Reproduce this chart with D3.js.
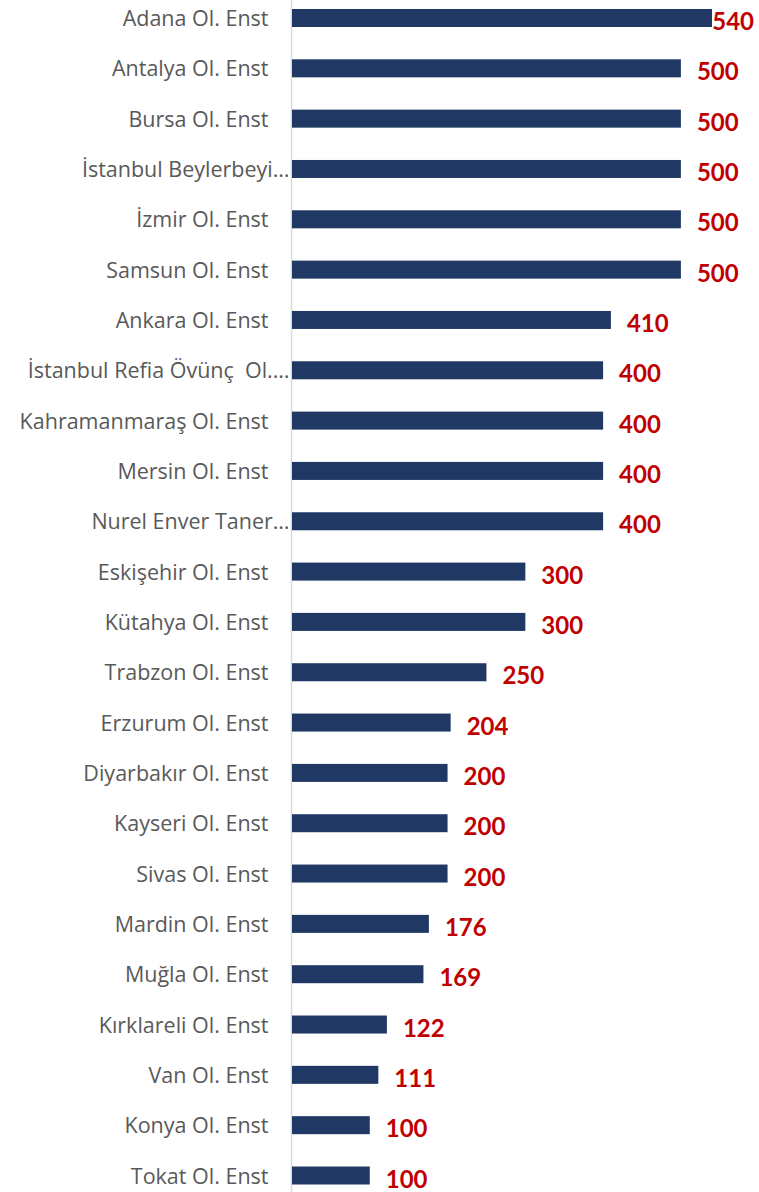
<!DOCTYPE html>
<html>
<head>
<meta charset="utf-8">
<script src="https://cdn.jsdelivr.net/npm/d3@7"></script>
<style>
  html, body { margin: 0; padding: 0; background: #fff; }
  svg { display: block; }
  text { white-space: pre; }
</style>
</head>
<body>
<svg id="chart" width="759" height="1192"></svg>
<script>
const categories = [
  "Adana Ol. Enst", "Antalya Ol. Enst", "Bursa Ol. Enst", "İstanbul Beylerbeyi…",
  "İzmir Ol. Enst", "Samsun Ol. Enst", "Ankara Ol. Enst", "İstanbul Refia Övünç  Ol.…",
  "Kahramanmaraş Ol. Enst", "Mersin Ol. Enst", "Nurel Enver Taner…", "Eskişehir Ol. Enst",
  "Kütahya Ol. Enst", "Trabzon Ol. Enst", "Erzurum Ol. Enst", "Diyarbakır Ol. Enst",
  "Kayseri Ol. Enst", "Sivas Ol. Enst", "Mardin Ol. Enst", "Muğla Ol. Enst",
  "Kırklareli Ol. Enst", "Van Ol. Enst", "Konya Ol. Enst", "Tokat Ol. Enst"
];
const values = [540, 500, 500, 500, 500, 500, 410, 400, 400, 400, 400, 300,
                300, 250, 204, 200, 200, 200, 176, 169, 122, 111, 100, 100];

const W = 759, H = 1192;
const axisX = 291.5;
const svg = d3.select("#chart");

const y = d3.scalePoint().domain(categories).range([18, 1175.5]);
const x = d3.scaleLinear().domain([0, 540]).range([292, 712]);
const barH = 18;

// axis line
svg.append("line")
  .attr("x1", axisX).attr("x2", axisX)
  .attr("y1", 0).attr("y2", H)
  .attr("stroke", "#d9d9d9").attr("stroke-width", 1.5);

const data = categories.map((c, i) => ({ c, v: values[i] }));

svg.selectAll("rect.bar").data(data).enter().append("rect")
  .attr("class", "bar")
  .attr("x", x(0))
  .attr("y", d => y(d.c) - barH / 2)
  .attr("width", d => x(d.v) - x(0))
  .attr("height", barH)
  .attr("fill", "#203864");

// category labels
svg.selectAll("text.cat").data(data).enter().append("text")
  .attr("class", "cat")
  .attr("x", d => d.c.endsWith("…") ? axisX - 2 : axisX - 23)
  .attr("y", d => y(d.c) + 8)
  .attr("text-anchor", "end")
  .attr("font-family", "'Open Sans', sans-serif")
  .attr("font-size", 21.5)
  .attr("fill", "#595959")
  .text(d => d.c);

// value labels
svg.selectAll("text.val").data(data).enter().append("text")
  .attr("class", "val")
  .attr("y", d => y(d.c) + 12)
  .attr("font-family", "Lato, sans-serif")
  .attr("font-weight", "bold")
  .attr("font-size", 24)
  .attr("fill", "#c00000")
  .text(d => d.v)
  .each(function(d) {
    const w = this.getComputedTextLength();
    d3.select(this).attr("x", Math.min(x(d.v) + 16, W - 5 - w));
  });
</script>
</body>
</html>
